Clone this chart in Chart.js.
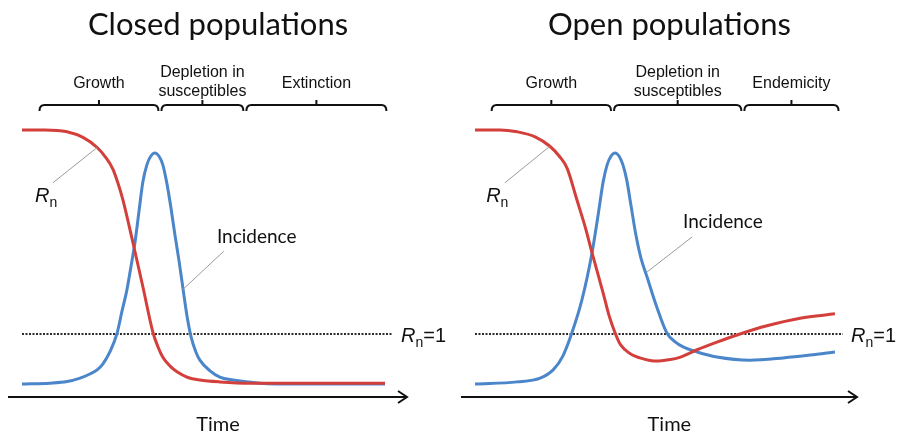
<!DOCTYPE html>
<html>
<head>
<meta charset="utf-8">
<script src="https://cdn.jsdelivr.net/npm/chart.js@4.4.0/dist/chart.umd.min.js"></script>
<style>
  body { margin: 0; background: #fff; }
  #wrap { position: relative; width: 897px; height: 434px; overflow: hidden; }
  canvas { position: absolute; top: 0; }
</style>
</head>
<body>
<div id="wrap">
  <canvas id="closed" width="448" height="434" style="left:0"></canvas>
  <canvas id="open" width="449" height="434" style="left:448px"></canvas>
</div>
<script>
// Closed populations
const closedRnTime = [0, 6.3, 12.4, 16.8, 20.7, 23.1, 25.1, 26.4, 27.8, 30.6, 33.3, 36.1, 37.5, 38.8, 40.8, 42.7, 45.7, 49, 54.5, 62.8, 76.6, 100];
const closedRn = [4.24, 4.24, 4.21, 4.12, 3.96, 3.80, 3.61, 3.40, 3.13, 2.44, 1.75, 1.02, 0.79, 0.63, 0.49, 0.40, 0.31, 0.27, 0.24, 0.22, 0.22, 0.22];
const closedIncTime = [0, 7.7, 12.4, 16, 18.7, 20.7, 22.3, 24.2, 26.2, 27.5, 28.9, 30, 31.1, 32.2, 33.3, 34.4, 35.5, 36.6, 37.7, 38.8, 39.9, 41, 42.1, 43.3, 44.4, 45.5, 46.6, 47.9, 49, 51.8, 54.5, 58.1, 65.6, 76.6, 100];
const closedInc = [4.1, 4.4, 4.9, 6.0, 7.3, 8.6, 10.5, 14.3, 20.3, 27.0, 34.0, 41.3, 48.9, 58.7, 68.3, 73.7, 76.5, 77.5, 76.5, 73.7, 67.9, 60.3, 51.7, 42.9, 34.0, 25.4, 19.0, 14.3, 11.7, 8.3, 6.3, 5.4, 4.4, 4.1, 4.1];
const closedPhases = ['Growth', 'Depletion in\nsusceptibles', 'Extinction'];
const closedPhaseEdges = [4.4, 38, 61.4, 100.8];

// Open populations
const openRnTime = [0, 6.9, 11.7, 16.7, 20.8, 23.6, 25.6, 28.3, 30.6, 32.5, 35.6, 37.2, 38.9, 40.3, 41.7, 43.6, 45.8, 48.6, 50.6, 53.6, 56.9, 61.7, 67.2, 73.6, 81.1, 90.3, 100];
const openRn = [4.24, 4.24, 4.21, 4.13, 3.98, 3.81, 3.63, 3.13, 2.70, 2.29, 1.65, 1.30, 1.02, 0.84, 0.75, 0.67, 0.62, 0.58, 0.57, 0.59, 0.63, 0.75, 0.87, 1.00, 1.13, 1.25, 1.32];
const openIncTime = [0, 11.7, 18.1, 21.7, 24.4, 26.9, 29.7, 32.5, 34.2, 35.6, 36.7, 37.8, 38.9, 40, 41.1, 42.2, 43.3, 44.7, 46.1, 47.8, 50.3, 53.3, 55.6, 57.8, 61.7, 67.2, 76.4, 85.6, 93.1, 100];
const openInc = [4.1, 4.8, 6.0, 8.6, 13.0, 20.3, 30.8, 45.7, 57.8, 68.3, 73.7, 76.5, 77.5, 76.5, 73.7, 68.6, 61.0, 51.4, 44.1, 38.1, 29.2, 20.3, 17.5, 15.9, 14.3, 12.7, 11.7, 12.4, 13.3, 14.3];
const openPhases = ['Growth', 'Depletion in\nsusceptibles', 'Endemicity'];
const openPhaseEdges = [4.2, 38.2, 74.4, 101.4];

const thresholdRn = 1;
const thresholdSpan = [0, 102.2];

const RED = '#d33f3b';
const BLUE = '#4a86c9';
const SANS = '"Liberation Sans", Arial, sans-serif';

function toPoints(xs, ys) {
    return xs.map((t, i) => ({ x: t, y: ys[i] }));
}

// R with subscript n, optionally followed by more text
function drawRn(ctx, px, py, tail) {
    ctx.textAlign = 'left';
    ctx.font = 'italic 20px ' + SANS;
    ctx.fillText('R', px, py);
    let w = ctx.measureText('R').width;
    ctx.font = '14px ' + SANS;
    ctx.fillText('n', px + w, py + 5);
    w += ctx.measureText('n').width;
    if (tail) {
        ctx.font = '20px ' + SANS;
        ctx.fillText(tail, px + w, py);
    }
}

function leader(ctx, x0, y0, x1, y1) {
    ctx.save();
    ctx.strokeStyle = '#9b9b9b';
    ctx.lineWidth = 1;
    ctx.beginPath();
    ctx.moveTo(x0, y0);
    ctx.lineTo(x1, y1);
    ctx.stroke();
    ctx.restore();
}

const annotate = {
    id: 'annotate',
    afterDraw(chart, args, o) {
        const { ctx, chartArea: area } = chart;
        const x = chart.scales.x, y = chart.scales.y, y2 = chart.scales.y2;
        ctx.save();
        ctx.fillStyle = '#111';
        ctx.strokeStyle = '#111';

        // title
        ctx.font = '31px Lato';
        ctx.textAlign = 'center';
        ctx.fillText(o.title, x.getPixelForValue(54), area.top - 47);

        // phases with braces
        const by = area.top + 23;
        ctx.lineWidth = 2;
        o.phases.forEach((label, i) => {
            const x0 = x.getPixelForValue(o.edges[i]) + 1.5;
            const x1 = x.getPixelForValue(o.edges[i + 1]) - 1.5;
            const mid = (x0 + x1) / 2;
            ctx.beginPath();
            ctx.moveTo(x0, by + 6);
            ctx.quadraticCurveTo(x0, by, x0 + 5, by);
            ctx.lineTo(x1 - 5, by);
            ctx.quadraticCurveTo(x1, by, x1, by + 6);
            ctx.moveTo(mid, by);
            ctx.lineTo(mid, by - 5);
            ctx.stroke();

            ctx.font = '16px ' + SANS;
            ctx.textAlign = 'center';
            const lines = label.split('\n');
            if (lines.length > 1) {
                ctx.fillText(lines[0], mid, area.top - 5);
                ctx.fillText(lines[1], mid, area.top + 13.5);
            } else {
                ctx.fillText(label, mid, area.top + 6);
            }
        });

        // time axis arrow
        const ay = y.getPixelForValue(0);
        const tip = area.right + 22;
        ctx.lineWidth = 2;
        ctx.beginPath();
        ctx.moveTo(area.left - 14, ay);
        ctx.lineTo(tip, ay);
        ctx.moveTo(tip - 9, ay - 6);
        ctx.lineTo(tip, ay);
        ctx.lineTo(tip - 9, ay + 6);
        ctx.stroke();

        ctx.font = '20px Lato';
        ctx.textAlign = 'center';
        ctx.fillText('Time', x.getPixelForValue(54), area.bottom + 34);

        // Rn = 1 label
        drawRn(ctx, area.right + 16, y.getPixelForValue(thresholdRn) + 8, '=1');

        // Rn curve label
        leader(ctx, x.getPixelForValue(o.rnLead[0]), y.getPixelForValue(o.rnLead[1]),
                    x.getPixelForValue(o.rnLead[2]), y.getPixelForValue(o.rnLead[3]));
        drawRn(ctx, x.getPixelForValue(o.rnText[0]), y.getPixelForValue(o.rnText[1]));

        // Incidence label
        leader(ctx, x.getPixelForValue(o.incLead[0]), y2.getPixelForValue(o.incLead[1]),
                    x.getPixelForValue(o.incLead[2]), y2.getPixelForValue(o.incLead[3]));
        ctx.font = '19px Lato';
        ctx.textAlign = 'left';
        ctx.fillText('Incidence', x.getPixelForValue(o.incText[0]), y2.getPixelForValue(o.incText[1]));

        ctx.restore();
    }
};

function makePanel(id, rnT, rn, incT, inc, pad, note) {
    new Chart(document.getElementById(id), {
        type: 'line',
        data: {
            datasets: [
                {
                    label: 'Rn',
                    data: toPoints(rnT, rn),
                    yAxisID: 'y',
                    borderColor: RED,
                    borderWidth: 3,
                    pointRadius: 0,
                    cubicInterpolationMode: 'monotone'
                },
                {
                    label: 'Incidence',
                    data: toPoints(incT, inc),
                    yAxisID: 'y2',
                    borderColor: BLUE,
                    borderWidth: 3,
                    pointRadius: 0,
                    cubicInterpolationMode: 'monotone'
                },
                {
                    label: 'Rn=1',
                    data: thresholdSpan.map(t => ({ x: t, y: thresholdRn })),
                    yAxisID: 'y',
                    borderColor: '#2a2a2a',
                    borderWidth: 2,
                    borderDash: [2, 1.5],
                    pointRadius: 0,
                    clip: false
                }
            ]
        },
        options: {
            responsive: false,
            animation: false,
            events: [],
            layout: { padding: pad },
            scales: {
                x: { type: 'linear', min: 0, max: 100, display: false },
                y: { min: 0, max: 5, display: false },
                y2: { min: 0, max: 100, display: false }
            },
            plugins: {
                legend: { display: false },
                tooltip: { enabled: false },
                annotate: note
            }
        },
        plugins: [annotate]
    });
}

makePanel('closed', closedRnTime, closedRn, closedIncTime, closedInc,
    { left: 22, right: 63, top: 82, bottom: 37 },
    {
        title: 'Closed populations',
        phases: closedPhases,
        edges: closedPhaseEdges,
        rnLead: [8.5, 3.40, 20.7, 3.96],
        rnText: [3.6, 3.10],
        incLead: [55.6, 46.3, 44.2, 34],
        incText: [53.7, 48.9]
    });

makePanel('open', openRnTime, openRn, openIncTime, openInc,
    { left: 27, right: 62, top: 82, bottom: 37 },
    {
        title: 'Open populations',
        phases: openPhases,
        edges: openPhaseEdges,
        rnLead: [8.3, 3.40, 20.8, 3.98],
        rnText: [3.1, 3.10],
        incLead: [60.3, 50.8, 47.8, 39.7],
        incText: [57.8, 53.7]
    });
</script>
</body>
</html>
